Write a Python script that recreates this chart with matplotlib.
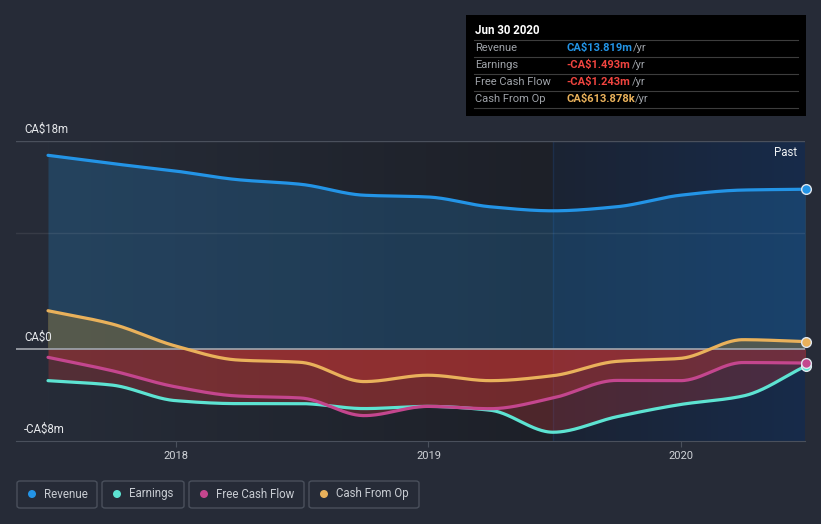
import numpy as np
import pandas as pd
import matplotlib.pyplot as plt
from matplotlib.patches import Rectangle, FancyBboxPatch, Ellipse

plt.rcParams['font.family'] = ['Roboto', 'DejaVu Sans']

W, H = 821, 524

# quarterly trailing-twelve-month values, CA$ millions
quarters = pd.date_range("2017-06-30", periods=13, freq="QE")
revenue = [16.76, 16.05, 15.4, 14.65, 14.25, 13.3, 13.15, 12.3, 11.95, 12.3, 13.3, 13.75, 13.819]
earnings = [-2.77, -3.15, -4.5, -4.76, -4.76, -5.19, -5.0, -5.33, -7.24, -5.9, -4.84, -4.1, -1.493]
free_cash_flow = [-0.75, -1.9, -3.3, -4.1, -4.27, -5.8, -5.0, -5.2, -4.27, -2.75, -2.77, -1.2, -1.243]
cash_from_op = [3.29, 2.15, 0.24, -0.98, -1.18, -2.85, -2.3, -2.77, -2.34, -1.1, -0.84, 0.78, 0.613878]

series_names = ["Revenue", "Earnings", "Free Cash Flow", "Cash From Op"]
series_colors = ["#2394e6", "#5de3d2", "#c4468e", "#e9b15b"]
y_ticks = [18, 0, -8]
y_tick_labels = ["CA$18m", "CA$0", "-CA$8m"]
x_ticks = [2018, 2019, 2020]

BG = "#262b37"


def year_frac(d):
    start = pd.Timestamp(year=d.year, month=1, day=1)
    end = pd.Timestamp(year=d.year + 1, month=1, day=1)
    return d.year + (d - start) / (end - start)


def pchip(x, y, xs):
    # monotone cubic (Fritsch-Carlson), just for drawing smooth curves
    x = np.asarray(x, float)
    y = np.asarray(y, float)
    h = np.diff(x)
    d = np.diff(y) / h
    m = np.zeros_like(y)
    m[0], m[-1] = d[0], d[-1]
    for k in range(1, len(y) - 1):
        if d[k - 1] * d[k] > 0:
            w1 = 2 * h[k] + h[k - 1]
            w2 = h[k] + 2 * h[k - 1]
            m[k] = (w1 + w2) / (w1 / d[k - 1] + w2 / d[k])
    idx = np.clip(np.searchsorted(x, xs) - 1, 0, len(h) - 1)
    t = (xs - x[idx]) / h[idx]
    h00 = 2 * t ** 3 - 3 * t ** 2 + 1
    h10 = t ** 3 - 2 * t ** 2 + t
    h01 = -2 * t ** 3 + 3 * t ** 2
    h11 = t ** 3 - t ** 2
    return h00 * y[idx] + h10 * h[idx] * m[idx] + h01 * y[idx + 1] + h11 * h[idx] * m[idx + 1]


def fx(px):
    return px / W


def fy(py):
    return 1 - py / H


xq = np.array([year_frac(q) for q in quarters])
xs = np.linspace(xq[0], xq[-1], 600)
past_start = xq[8]

fig = plt.figure(figsize=(W / 100, H / 100), dpi=100, facecolor=BG)
ax = fig.add_axes([fx(16), fy(441), fx(805) - fx(16), fy(141) - fy(441)])
ax.set_facecolor(BG)
x0 = 2018 + (16 - 176) / 252.5
x1 = 2018 + (805 - 176) / 252.5
ax.set_xlim(x0, x1)
ax.set_ylim(-8, 18)

# background gradients
grad = np.linspace(0, 1, 256).reshape(1, -1)
left_c = np.array([[0x26, 0x2c, 0x38], [0x1d, 0x20, 0x28]]) / 255
right_c = np.array([[0x1b, 0x23, 0x33], [0x17, 0x2b, 0x4a]]) / 255
img_l = left_c[0] + (left_c[1] - left_c[0]) * grad[..., None]
img_r = right_c[0] + (right_c[1] - right_c[0]) * grad[..., None]
ax.imshow(img_l, extent=[xq[0], past_start, -8, 18], aspect='auto', zorder=0)
ax.imshow(img_r, extent=[past_start, xq[-1], -8, 18], aspect='auto', zorder=0)
ax.axvline(past_start, color="#1c2e4a", lw=1, zorder=1)

rev_s = pchip(xq, revenue, xs)
earn_s = pchip(xq, earnings, xs)
fcf_s = pchip(xq, free_cash_flow, xs)
cfo_s = pchip(xq, cash_from_op, xs)

# area fills
ax.fill_between(xs, 0, rev_s, color="#2394e6", alpha=0.22, lw=0, zorder=2)
ax.fill_between(xs, 0, cfo_s, where=cfo_s > 0, interpolate=True, color="#86703c", alpha=0.5, lw=0, zorder=2)
for s in [earn_s, fcf_s, cfo_s]:
    ax.fill_between(xs, 0, np.minimum(s, 0), color="#e53935", alpha=0.245, lw=0, zorder=2)

# gridlines
ax.axhline(10, color="white", alpha=0.08, lw=1, zorder=3)
ax.axhline(18, color="#4a505c", lw=1, zorder=3)
ax.axhline(0, color="#a3a7ae", lw=1.2, zorder=3)

for vals, c in zip([rev_s, earn_s, fcf_s, cfo_s], series_colors):
    ax.plot(xs, vals, color=c, lw=2.3, zorder=4, solid_capstyle='round')

for vals, c in zip([revenue, earnings, free_cash_flow, cash_from_op], series_colors):
    ax.plot(xq[-1], vals[-1], 'o', ms=7, color=c, mec="#dfe6ee", mew=1, zorder=5, clip_on=False)

for sp in ["top", "left", "right"]:
    ax.spines[sp].set_visible(False)
ax.spines["bottom"].set_color("#4a505c")
ax.set_yticks([])
ax.set_xticks(x_ticks)
ax.set_xticklabels([str(t) for t in x_ticks])
ax.tick_params(axis='x', direction='out', length=4, color="#4a505c", labelcolor="#d0d3d8",
               labelsize=8, pad=3)

for v, lab in zip(y_ticks, y_tick_labels):
    py = 349 - v * 11.54 - 12
    fig.text(fx(24), fy(py), lab, color="#e6e8eb", fontsize=8.3, va='center', ha='left')

fig.text(fx(797), fy(153), "Past", color="#f0f2f4", fontsize=8.3, ha='right', va='center')

# tooltip box
fig.patches.append(Rectangle((fx(466), fy(116)), fx(806) - fx(466), fy(15) - fy(116),
                             transform=fig.transFigure, facecolor="black", edgecolor="none", zorder=10))
fig.text(fx(475), fy(31), "Jun 30 2020", color="white", fontsize=8.3, fontweight='bold',
         va='center', zorder=11)
for py in [40, 57, 74, 91, 108]:
    fig.lines.append(plt.Line2D([fx(474), fx(798)], [fy(py), fy(py)], transform=fig.transFigure,
                                color="#3d3d3d", lw=0.8, zorder=11))


def fmt(v):
    sign = "-" if v < 0 else ""
    v = abs(v)
    if v >= 1:
        return f"{sign}CA${v:.3f}m"
    return f"{sign}CA${v * 1000:.3f}k"


last_vals = [revenue[-1], earnings[-1], free_cash_flow[-1], cash_from_op[-1]]
val_colors = ["#2394e6", "#f0443f", "#f0443f", "#e9b15b"]
yr_x = [633, 632, 632, 635]
for i, (name, v, c) in enumerate(zip(series_names, last_vals, val_colors)):
    py = 48 + i * 17
    fig.text(fx(475), fy(py), name, color="#9ea2a8", fontsize=8, va='center', zorder=11)
    fig.text(fx(566), fy(py), fmt(v), color=c, fontsize=8, fontweight='bold', va='center', zorder=11)
    fig.text(fx(yr_x[i]), fy(py), "/yr", color="#9ea2a8", fontsize=8, va='center', zorder=11)

# legend boxes
boxes = [(17, 97), (102, 184), (189, 304), (309, 419)]
for (bx0, bx1), name, c in zip(boxes, series_names, series_colors):
    fig.patches.append(FancyBboxPatch((fx(bx0), fy(508)), fx(bx1) - fx(bx0), fy(481) - fy(508),
                                      boxstyle="round,pad=0,rounding_size=0.004",
                                      transform=fig.transFigure, facecolor="none",
                                      edgecolor="#4a505c", lw=1))
    fig.patches.append(Ellipse((fx(bx0 + 15), fy(494)), 8 / W, 8 / H, transform=fig.transFigure,
                               facecolor=c, edgecolor="none"))
    fig.text(fx(bx0 + 27), fy(494), name, color="#c8ccd2", fontsize=8.3, va='center')

fig.savefig("out.png", dpi=100, facecolor=BG)
